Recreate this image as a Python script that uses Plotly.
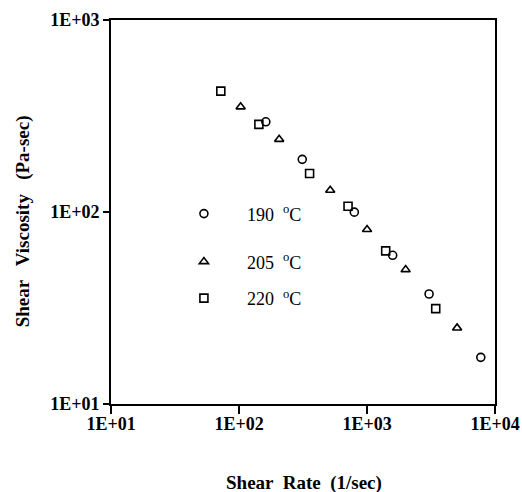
import plotly.graph_objects as go

# Shear rate (1/sec) and shear viscosity (Pa-sec)
rate_190 = [162, 312, 796, 1587, 3055, 7745]
visc_190 = [295, 188, 99.8, 59.5, 37.4, 17.5]

rate_205 = [103, 206, 516, 1001, 2004, 5058]
visc_205 = [353, 239, 129.8, 81, 50.1, 24.9]

rate_220 = [72.1, 143, 356, 711, 1400, 3443]
visc_220 = [426, 286, 158.7, 107.2, 62.7, 31.4]

series_names = ["190  <sup>o</sup>C", "205  <sup>o</sup>C", "220  <sup>o</sup>C"]
x_tickvals = [10, 100, 1000, 10000]
x_ticktext = ["1E+01", "1E+02", "1E+03", "1E+04"]
y_tickvals = [10, 100, 1000]
y_ticktext = ["1E+01", "1E+02", "1E+03"]
x_title = "Shear  Rate  (1/sec)"
y_title = "Shear   Viscosity   (Pa-sec)"

SERIF = "Liberation Serif, Times New Roman, serif"
symbols = ["circle-open", "triangle-up-open", "square-open"]
legend_ids = ["legend", "legend2", "legend3"]
data = [(rate_190, visc_190), (rate_205, visc_205), (rate_220, visc_220)]

fig = go.Figure()
for (xs, ys), name, sym, lg in zip(data, series_names, symbols, legend_ids):
    fig.add_trace(go.Scatter(
        x=xs, y=ys, mode="markers", name=name, legend=lg, showlegend=True,
        marker=dict(symbol=sym, size=8, color="black", line=dict(width=1.6, color="black")),
    ))

leg_common = dict(
    xanchor="left", yanchor="middle", bgcolor="rgba(0,0,0,0)",
    font=dict(family=SERIF, size=18, color="black"), itemwidth=76,
)
tick_font = dict(family=SERIF, size=18, color="black", weight="bold")
title_font = dict(family=SERIF, size=19, color="black", weight="bold")
fig.update_layout(
    width=522, height=492,
    margin=dict(l=111, r=27, t=20, b=88),
    plot_bgcolor="white", paper_bgcolor="white",
    showlegend=True,
    legend=dict(x=0.13, y=0.495, **leg_common),
    legend2=dict(x=0.13, y=0.37, **leg_common),
    legend3=dict(x=0.13, y=0.275, **leg_common),
    xaxis=dict(
        type="log", range=[1, 4], tickvals=x_tickvals, ticktext=x_ticktext,
        ticks="outside", ticklen=8, tickwidth=1.5, tickcolor="black",
        ticklabelstandoff=-6,
        showline=True, linewidth=1.8, linecolor="black", mirror=True,
        showgrid=False, zeroline=False, automargin=False,
        tickfont=tick_font,
    ),
    yaxis=dict(
        type="log", range=[1, 3], tickvals=y_tickvals, ticktext=y_ticktext,
        ticks="outside", ticklen=6, tickwidth=1.5, tickcolor="black",
        showline=True, linewidth=1.8, linecolor="black", mirror=True,
        showgrid=False, zeroline=False, automargin=False,
        tickfont=tick_font,
    ),
    annotations=[
        dict(text=x_title, xref="paper", yref="paper", x=0.502, y=-0.207,
             xanchor="center", yanchor="middle", showarrow=False, font=title_font),
        dict(text=y_title, xref="paper", yref="paper", x=-0.229, y=0.476,
             xanchor="center", yanchor="middle", textangle=-90, showarrow=False,
             font=title_font),
    ],
)
fig.write_html("out.html")
